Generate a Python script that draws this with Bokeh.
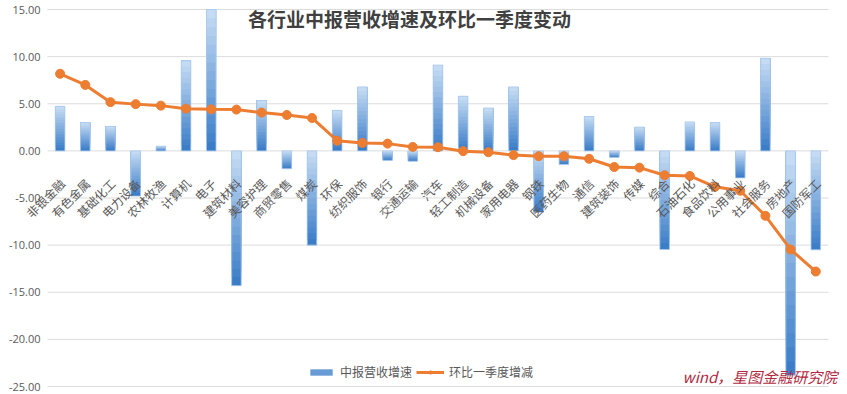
import numpy as np
from math import pi
from bokeh.plotting import figure
from bokeh.models import (ColumnDataSource, Range1d, Legend, LegendItem)
from bokeh.core.properties import value
from bokeh.embed import file_html
from bokeh.resources import INLINE

# ---------------- data ----------------
categories = ["非银金融", "有色金属", "基础化工", "电力设备", "农林牧渔", "计算机", "电子",
              "建筑材料", "美容护理", "商贸零售", "煤炭", "环保", "纺织服饰", "银行",
              "交通运输", "汽车", "轻工制造", "机械设备", "家用电器", "钢铁", "医药生物",
              "通信", "建筑装饰", "传媒", "综合", "石油石化", "食品饮料", "公用事业",
              "社会服务", "房地产", "国防军工"]
revenue_growth = [4.72, 3.0, 2.59, -4.8, 0.49, 9.55, 16.0, -14.3, 5.35, -1.89, -10.0,
                  4.3, 6.79, -1.01, -1.1, 9.1, 5.8, 4.55, 6.79, -6.5, -1.44, 3.64, -0.7,
                  2.52, -10.46, 3.07, 3.0, -2.87, 9.83, -23.8, -10.5]
qoq_change = [8.18, 7.0, 5.17, 4.96, 4.8, 4.48, 4.41, 4.38, 4.06, 3.81, 3.49, 1.08, 0.84,
              0.77, 0.42, 0.39, -0.03, -0.14, -0.45, -0.56, -0.56, -0.84, -1.71, -1.78,
              -2.59, -2.66, -3.81, -4.23, -6.89, -10.46, -12.8]
y_ticks = [-25, -20, -15, -10, -5, 0, 5, 10, 15]
y_tick_labels = ["%.2f" % t for t in y_ticks]
title_text = "各行业中报营收增速及环比一季度变动"
series_names = ["中报营收增速", "环比一季度增减"]
source_text = "wind，星图金融研究院"

# ---------------- figure (frame fills the canvas; axis drawn inside) ----------------
n = len(categories)
xs = np.arange(n)
W, H = 846, 393
px_per_cat = 25.19
x0_px = 59.6
TOP_PX, BOT_PX = 9, 386
px_per_unit = (BOT_PX - TOP_PX) / 40.0
x_start = -x0_px / px_per_cat
x_end = (W - x0_px) / px_per_cat
y_top = 15 + TOP_PX / px_per_unit
y_bot = -25 - (H - BOT_PX) / px_per_unit

p = figure(width=W, height=H, output_backend="svg", toolbar_location=None,
           x_range=Range1d(x_start, x_end), y_range=Range1d(y_bot, y_top),
           min_border=0)
p.outline_line_color = None
p.background_fill_color = "white"
p.border_fill_color = "white"
p.xaxis.visible = False
p.yaxis.visible = False
p.grid.visible = False

# gridlines across the plot area
left_edge = -0.5
right_edge = n - 0.5
p.segment(x0=[left_edge] * len(y_ticks), x1=[right_edge] * len(y_ticks),
          y0=y_ticks, y1=y_ticks, line_color="#dcdcdc", line_width=1)
# y tick labels
p.text(x=[left_edge] * len(y_ticks), y=y_ticks, text=y_tick_labels, x_offset=-7,
       text_align="right", text_baseline="middle", text_font=value("Open Sans"),
       text_font_size="11px", text_color="#595959")

# ---------------- gradient bars (overlapping layers, lighter toward top) ----------------
vals = np.array(revenue_growth, dtype=float)
bot = np.minimum(vals, 0.0)
top = np.minimum(np.maximum(vals, 0.0), 15.0)
N = 16
dark = np.array([0x3c, 0x7d, 0xc8])
light = np.array([0xc4, 0xdb, 0xf3])
BAR_W = 0.38
bar_renderers = []
for k in range(N):
    f = k / (N - 1)
    c = dark + (light - dark) * f
    col = "#%02x%02x%02x" % tuple(int(round(v)) for v in c)
    b = bot + (top - bot) * k / N
    r = p.vbar(x=xs, bottom=b, top=top, width=BAR_W, fill_color=col, line_color=None)
    bar_renderers.append(r)
p.vbar(x=xs, bottom=bot, top=top, width=BAR_W, fill_color=None,
       line_color="#a9c9ec", line_width=1, line_alpha=0.8)

# ---------------- line ----------------
src = ColumnDataSource(dict(x=xs, y=qoq_change))
ln = p.line("x", "y", source=src, line_color="#ed7d31", line_width=3)
mk = p.scatter("x", "y", source=src, marker="circle", size=9,
               fill_color="#ed7d31", line_color="#ed7d31")

# ---------------- category labels along zero line ----------------
lab_src = ColumnDataSource(dict(x=xs, y=np.zeros(n), t=categories))
p.text("x", "y", text="t", source=lab_src, angle=pi / 4, text_align="right",
       text_baseline="middle", x_offset=2, y_offset=30,
       text_font=value("Noto Sans CJK SC"), text_font_size="12px", text_color="#595959")

# ---------------- title & source ----------------
p.text(x=[13.87], y=[14.0], text=[title_text], text_align="center",
       text_baseline="middle", text_font=value("Noto Sans CJK SC"),
       text_font_size="19px", text_font_style="bold", text_color="#404040")
p.text(x=[30.85], y=[-23.94], text=[source_text], text_align="right",
       text_baseline="middle", text_font=value("Noto Sans CJK SC"),
       text_font_size="15px", text_font_style="italic", text_color="#b02a40")

# ---------------- legend ----------------
legend = Legend(items=[LegendItem(label=series_names[0], renderers=[bar_renderers[N // 3]]),
                       LegendItem(label=series_names[1], renderers=[ln, mk])],
                orientation="horizontal", location=(307, 13), border_line_color=None,
                background_fill_alpha=0, padding=2, margin=0, spacing=4,
                glyph_width=28, glyph_height=8, label_standoff=5,
                label_text_font="Noto Sans CJK SC", label_text_font_size="12px",
                label_text_color="#595959")
p.add_layout(legend)

open("out.html", "w").write(file_html(p, INLINE))
